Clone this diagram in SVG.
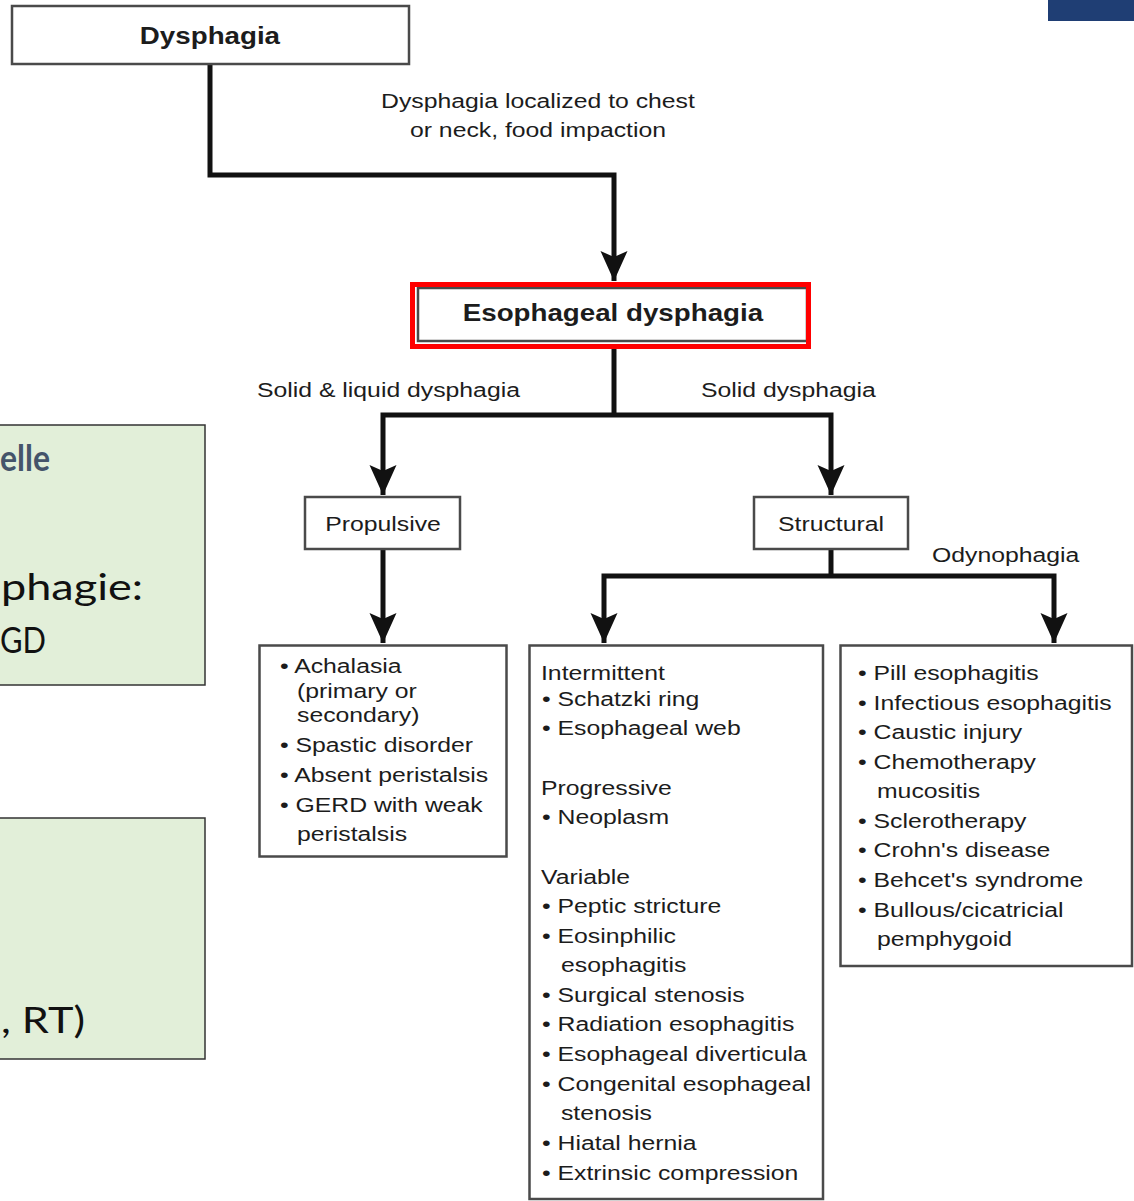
<svg xmlns="http://www.w3.org/2000/svg" width="1134" height="1201" viewBox="0 0 1134 1201">
  <defs>
    <marker id="arrow" markerUnits="userSpaceOnUse" markerWidth="34" markerHeight="30" refX="30" refY="14" orient="auto" viewBox="0 0 34 30" overflow="visible">
      <path d="M30,14 L0,0.5 L6,14 L0,27.5 Z" fill="#111"/>
    </marker>
  </defs>
  <style>
    text { font-family: "Liberation Sans", Arial, sans-serif; fill: #1c1c1c; }
    .sx { transform-box: fill-box; transform-origin: 0% 100%; transform: scaleX(1.18); }
    .sxc { transform-box: fill-box; transform-origin: 50% 100%; transform: scaleX(1.18); }
    .title { font-size: 23.5px; font-weight: bold; }
    .lbl { font-size: 21px; }
    .item { font-size: 21px; }
    .box { fill: #fff; stroke: #4a4a4a; stroke-width: 2.5; }
    .wire { fill: none; stroke: #111; stroke-width: 5; stroke-linejoin: miter; }
    .note { fill: #e2efd9; stroke: #333; stroke-width: 1.5; }
    .notetext { font-family: "Lato", "Liberation Sans", sans-serif; font-size: 37px; fill: #111; }
  </style>

  <rect x="0" y="0" width="1134" height="1201" fill="#fff"/>

  <!-- corner banner -->
  <rect x="1048" y="-2" width="90" height="23" fill="#1f3e74"/>

  <!-- side notes -->
  <g id="note-top">
    <rect class="note" x="-2" y="425" width="207" height="260"/>
    <text class="notetext" x="0" y="471" textLength="50" lengthAdjust="spacingAndGlyphs" style="font-weight:bold;fill:#44546a">elle</text>
    <text class="notetext" x="1" y="600" textLength="142" lengthAdjust="spacingAndGlyphs">phagie:</text>
    <text class="notetext" x="0" y="653" textLength="46" lengthAdjust="spacingAndGlyphs">GD</text>
  </g>
  <g id="note-bottom">
    <rect class="note" x="-2" y="818" width="207" height="241"/>
    <text class="notetext" x="1" y="1033" textLength="84" lengthAdjust="spacingAndGlyphs">, RT)</text>
  </g>

  <!-- connectors -->
  <g id="connectors">
    <path class="wire" d="M210,64 V175 H614 V281" marker-end="url(#arrow)"/>
    <path class="wire" d="M614,349 V415"/>
    <path class="wire" d="M614,415 H383 V495" marker-end="url(#arrow)"/>
    <path class="wire" d="M614,415 H831 V495" marker-end="url(#arrow)"/>
    <path class="wire" d="M383,549 V643" marker-end="url(#arrow)"/>
    <path class="wire" d="M831,549 V576"/>
    <path class="wire" d="M831,576 H604 V643" marker-end="url(#arrow)"/>
    <path class="wire" d="M831,576 H1054 V643" marker-end="url(#arrow)"/>
    <text class="lbl sxc" x="538" y="108" text-anchor="middle">Dysphagia localized to chest</text>
    <text class="lbl sxc" x="538" y="137" text-anchor="middle">or neck, food impaction</text>
    <text class="lbl sx" x="257" y="397">Solid &amp; liquid dysphagia</text>
    <text class="lbl sx" x="701" y="397">Solid dysphagia</text>
    <text class="lbl sx" x="932" y="562">Odynophagia</text>
  </g>

  <!-- nodes -->
  <g id="dysphagia">
    <rect class="box" x="12" y="6" width="397" height="58"/>
    <text class="title sxc" x="210" y="44" text-anchor="middle">Dysphagia</text>
  </g>

  <g id="esophageal-dysphagia">
    <rect class="box" x="418" y="288" width="389" height="53"/>
    <rect x="412.5" y="284.5" width="396" height="62" fill="none" stroke="#f00" stroke-width="5"/>
    <text class="title sxc" x="613" y="321" text-anchor="middle">Esophageal dysphagia</text>
  </g>

  <g id="propulsive">
    <rect class="box" x="305" y="497" width="155" height="52"/>
    <text class="lbl sxc" x="383" y="531" text-anchor="middle">Propulsive</text>
  </g>

  <g id="structural">
    <rect class="box" x="754" y="497" width="154" height="52"/>
    <text class="lbl sxc" x="831" y="531" text-anchor="middle">Structural</text>
  </g>

  <g id="propulsive-causes">
    <rect class="box" x="259.5" y="645.5" width="247" height="211"/>
    <text class="item sx" x="280" y="673">• Achalasia</text>
    <text class="item sx" x="297" y="698">(primary or</text>
    <text class="item sx" x="297" y="722">secondary)</text>
    <text class="item sx" x="280" y="752">• Spastic disorder</text>
    <text class="item sx" x="280" y="782">• Absent peristalsis</text>
    <text class="item sx" x="280" y="812">• GERD with weak</text>
    <text class="item sx" x="297" y="841">peristalsis</text>
  </g>

  <g id="structural-causes">
    <rect class="box" x="529.5" y="645.5" width="293.5" height="553.5"/>
    <text class="item sx" x="541" y="680">Intermittent</text>
    <text class="item sx" x="542" y="706">• Schatzki ring</text>
    <text class="item sx" x="542" y="735">• Esophageal web</text>
    <text class="item sx" x="541" y="795">Progressive</text>
    <text class="item sx" x="542" y="824">• Neoplasm</text>
    <text class="item sx" x="541" y="884">Variable</text>
    <text class="item sx" x="542" y="913">• Peptic stricture</text>
    <text class="item sx" x="542" y="943">• Eosinphilic</text>
    <text class="item sx" x="561" y="972">esophagitis</text>
    <text class="item sx" x="542" y="1002">• Surgical stenosis</text>
    <text class="item sx" x="542" y="1031">• Radiation esophagitis</text>
    <text class="item sx" x="542" y="1061">• Esophageal diverticula</text>
    <text class="item sx" x="542" y="1091">• Congenital esophageal</text>
    <text class="item sx" x="561" y="1120">stenosis</text>
    <text class="item sx" x="542" y="1150">• Hiatal hernia</text>
    <text class="item sx" x="542" y="1180">• Extrinsic compression</text>
  </g>

  <g id="odynophagia-causes">
    <rect class="box" x="840.5" y="645.5" width="291.5" height="320.5"/>
    <text class="item sx" x="858" y="680">• Pill esophagitis</text>
    <text class="item sx" x="858" y="710">• Infectious esophagitis</text>
    <text class="item sx" x="858" y="739">• Caustic injury</text>
    <text class="item sx" x="858" y="769">• Chemotherapy</text>
    <text class="item sx" x="877" y="798">mucositis</text>
    <text class="item sx" x="858" y="828">• Sclerotherapy</text>
    <text class="item sx" x="858" y="857">• Crohn's disease</text>
    <text class="item sx" x="858" y="887">• Behcet's syndrome</text>
    <text class="item sx" x="858" y="917">• Bullous/cicatricial</text>
    <text class="item sx" x="877" y="946">pemphygoid</text>
  </g>
</svg>
